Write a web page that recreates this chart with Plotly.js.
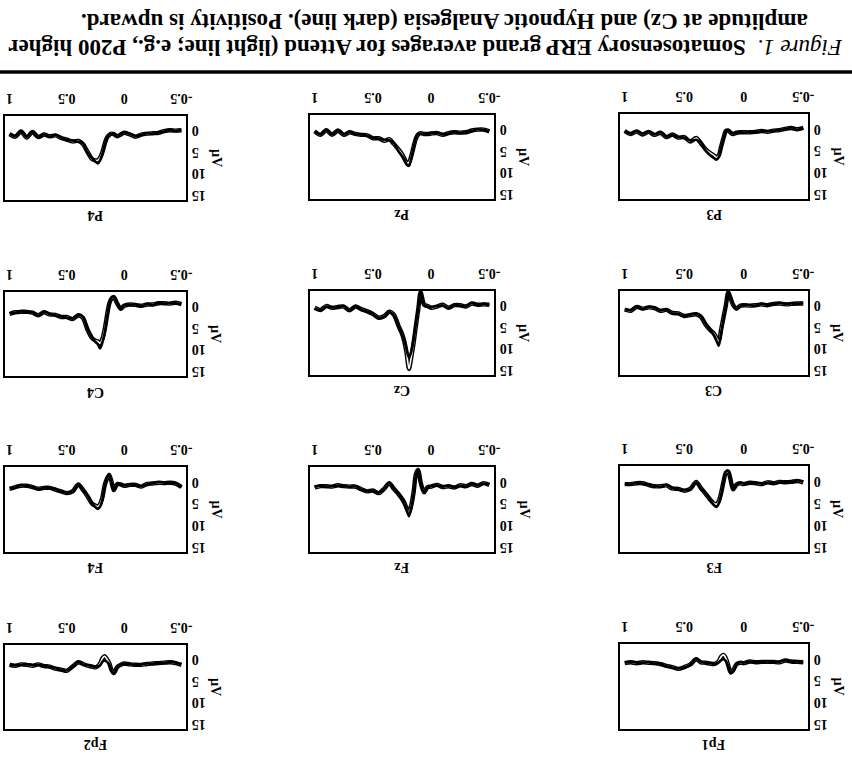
<!DOCTYPE html>
<html><head><meta charset="utf-8">
<script src="https://cdn.plot.ly/plotly-3.0.1.min.js"></script>
<style>html,body{margin:0;padding:0;background:#fff;} #chart{width:852px;height:770px;}</style>
</head><body><div id="chart"></div>
<script>
// time in seconds relative to stimulus
const time = [-0.5,-0.45,-0.4,-0.35,-0.3,-0.25,-0.2,-0.15,-0.1,-0.05,0,0.03,0.06,0.09,0.11,0.13,0.15,0.17,0.19,0.21,0.23,0.25,0.28,0.32,0.36,0.4,0.45,0.5,0.55,0.6,0.65,0.7,0.75,0.8,0.85,0.9,0.95,1.0];
const channels = ['P3','Pz','P4','C3','Cz','C4','F3','Fz','F4','Fp1','Fp2'];
const xTickVals = [-0.5,0,0.5,1];
const xTickText = ['-0.5','0','0.5','1'];
const yTickVals = [0,5,10,15];
const yTickText = ['\u20070','\u20075','10','15'];
const yTitle = 'µV';
const captionLine1 = '<i>Figure 1.</i>  <b>Somatosensory ERP grand averages for Attend (light line; e.g., P200 higher</b>';
const captionLine2 = '<b>amplitude at Cz) and Hypnotic Analgesia (dark line). Positivity is upward.</b>';

// Attend (light line), µV
const attend_P3 = [-1.3,-1.0,-1.3,-1.1,-0.8,-0.7,-0.4,-0.6,-0.4,-0.3,-0.3,-0.3,-0.2,0.1,-0.2,-0.7,-0.6,1.0,3.0,5.0,5.5,5.0,4.5,3.6,2.2,1.0,1.8,0.8,0.9,0.2,0.8,-0.2,0.3,-0.4,0.2,-0.5,0.1,-0.6];
const attend_Pz = [-0.7,-1.1,-1.1,-0.9,-0.5,-0.4,-0.5,-0.3,0.1,-0.3,-0.2,-0.1,-0.1,-0.3,0.0,0.9,2.8,5.0,6.5,6.6,5.6,4.6,3.5,2.2,1.1,1.5,0.9,0.9,0.2,0.1,-0.1,-0.5,0.1,-0.9,0.1,-1.0,0.1,-0.7];
const attend_P4 = [-1.2,-1.1,-1.2,-1.0,-0.6,-0.5,-0.4,-0.2,0.3,-0.2,-0.6,-0.2,0.2,-0.3,-0.4,-0.1,0.5,2.0,3.9,5.2,5.8,5.8,5.5,3.8,2.0,1.3,1.4,1.0,0.6,0.0,0.2,-0.2,0.4,-0.8,0.5,-0.9,0.3,-0.3];
const attend_C3 = [-1.6,-1.6,-1.5,-1.4,-1.6,-1.5,-1.2,-1.4,-1.2,-1.1,-1.2,-1.1,-0.4,-1.3,-2.8,-4.2,-1.2,1.6,4.4,7.2,6.4,5.4,4.6,3.3,1.5,0.9,1.1,1.3,0.7,0.6,-0.1,0.1,-0.5,-0.7,-0.4,-0.8,0.1,-0.2];
const attend_Cz = [-1.3,-1.4,-1.3,-1.6,-0.9,-1.2,-1.2,-0.6,-1.3,-0.9,-0.6,-1.0,-1.3,-4.2,-0.3,3.5,7.5,10.8,13.6,10.0,7.2,5.4,3.6,1.0,0.3,1.3,1.7,0.8,0.2,-0.3,-0.9,0.0,-0.9,-0.8,-0.6,-1.0,-0.1,-0.6];
const attend_C4 = [-1.7,-2.0,-1.8,-1.9,-1.9,-1.6,-1.6,-1.3,-1.5,-1.6,-1.3,-0.6,-1.8,-3.3,-3.0,-1.8,1.0,4.2,6.4,7.4,7.0,6.8,6.2,4.2,1.5,0.9,1.8,1.3,1.3,0.8,0.7,0.2,0.9,0.3,0.1,0.1,0.2,0.6];
const attend_F3 = [-0.8,-1.1,-0.9,-0.8,-0.9,-0.6,-0.8,-0.4,-0.6,-0.7,-0.4,-0.6,-0.3,0.8,-1.3,-3.2,-3.0,-1.0,1.6,3.5,4.2,4.0,3.2,1.8,0.5,-0.9,0.7,1.1,0.7,0.6,-0.1,0.1,0.1,-0.2,-0.6,-0.6,-0.4,-0.4];
const attend_Fz = [-0.4,-0.8,-0.2,-0.6,-0.1,-0.3,0.2,-0.1,0.1,-0.4,0.0,0.1,1.3,-1.0,-3.8,-2.9,1.2,4.2,6.0,5.0,3.7,2.8,1.7,0.5,-0.8,0.4,1.5,0.9,1.1,0.6,0.0,0.0,-0.1,-0.3,0.0,-0.1,-0.1,0.2];
const attend_F4 = [0.1,-0.7,-0.9,-0.8,-0.9,-0.7,-0.6,0.0,-0.4,-0.4,-0.2,-0.5,-0.6,0.8,-1.1,-2.7,-1.8,-0.3,2.5,4.0,4.6,4.4,3.9,2.2,0.7,-0.5,1.1,1.5,1.1,0.7,0.3,0.3,0.5,0.1,-0.2,-0.2,0.1,0.5];
const attend_Fp1 = [-0.3,-0.4,-0.5,-0.7,-0.3,-0.4,-0.4,-0.4,-0.3,-0.5,-0.1,-0.2,0.1,1.6,2.0,0.4,-1.2,-2.0,-1.6,-0.6,-0.1,0.1,0.0,-0.2,-0.3,-1.0,0.2,0.8,1.2,0.8,0.5,0.1,-0.1,-0.2,-0.3,-0.1,-0.3,-0.1];
const attend_Fp2 = [0.1,-0.3,-0.5,-0.4,-0.3,-0.2,-0.1,0.1,0.1,0.0,-0.2,0.1,0.6,2.0,1.3,-0.3,-1.2,-1.9,-1.4,-0.2,0.4,0.7,0.5,0.3,-0.1,-0.5,0.5,1.5,1.2,1.0,0.5,0.4,0.0,0.3,0.1,0.0,0.3,0.1];

// Hypnotic Analgesia (dark line), µV
const hypno_P3 = [-1.4,-0.9,-1.4,-1.0,-0.9,-0.6,-0.5,-0.6,-0.3,-0.4,-0.2,-0.4,-0.2,0.0,-0.3,-0.8,-0.5,1.2,3.2,5.4,6.0,5.6,5.0,3.9,2.0,1.4,1.6,0.9,0.8,0.3,0.7,-0.3,0.2,-0.5,0.1,-0.6,0.0,-0.7];
const hypno_Pz = [-0.8,-1.0,-1.2,-0.8,-0.6,-0.3,-0.6,-0.2,0.0,-0.4,-0.3,0.0,-0.2,-0.2,-0.1,0.8,3.0,5.5,7.3,7.0,5.8,5.0,3.9,2.0,1.3,1.3,1.0,0.8,0.3,0.0,0.0,-0.6,0.0,-1.0,0.0,-1.1,0.0,-0.8];
const hypno_P4 = [-1.3,-1.0,-1.3,-0.9,-0.7,-0.4,-0.5,-0.1,0.2,-0.3,-0.7,-0.3,0.3,-0.4,-0.3,-0.2,0.6,2.2,4.3,5.8,6.5,6.1,5.3,4.0,1.8,1.5,1.2,1.1,0.5,-0.1,0.3,-0.3,0.5,-0.9,0.4,-1.0,0.2,-0.4];
const hypno_C3 = [-1.7,-1.5,-1.6,-1.5,-1.7,-1.4,-1.3,-1.5,-1.1,-1.2,-1.3,-1.0,-0.3,-1.4,-3.0,-4.4,-1.0,2.0,5.2,8.2,7.0,5.8,4.6,3.1,1.4,0.8,1.0,1.4,0.8,0.7,-0.2,0.0,-0.6,-0.8,-0.3,-0.9,0.0,-0.3];
const hypno_Cz = [-1.2,-1.5,-1.2,-1.7,-1.0,-1.1,-1.3,-0.5,-1.2,-1.0,-0.7,-0.9,-1.2,-4.3,-0.6,3.0,6.8,9.6,11.0,9.2,7.0,5.4,3.7,1.2,0.4,1.4,1.8,0.9,0.3,-0.2,-1.0,0.1,-1.0,-0.7,-0.7,-0.9,0.0,-0.5];
const hypno_C4 = [-1.8,-1.9,-1.9,-1.8,-2.0,-1.5,-1.7,-1.2,-1.6,-1.5,-1.4,-0.5,-1.9,-3.4,-3.2,-1.6,1.5,5.0,7.2,8.6,7.6,7.1,6.1,4.0,1.3,0.8,1.7,1.4,1.2,0.9,0.6,0.1,1.0,0.2,0.2,0.0,0.3,0.5];
const hypno_F3 = [-0.9,-1.2,-0.8,-0.9,-0.8,-0.7,-0.7,-0.5,-0.7,-0.6,-0.5,-0.7,-0.2,0.9,-1.4,-3.4,-3.2,-0.9,2.0,4.0,4.8,4.4,3.3,1.7,0.6,-0.8,0.8,1.0,0.8,0.5,-0.2,0.2,0.0,-0.3,-0.5,-0.7,-0.3,-0.5];
const hypno_Fz = [-0.5,-0.7,-0.3,-0.7,0.0,-0.2,0.1,-0.2,0.0,-0.3,-0.1,0.2,1.4,-0.9,-4.0,-2.7,1.6,4.8,6.8,5.2,3.9,2.9,1.6,0.4,-0.9,0.5,1.4,1.0,1.0,0.7,-0.1,0.1,-0.2,-0.2,-0.1,0.0,-0.2,0.1];
const hypno_F4 = [0.2,-0.8,-0.8,-0.9,-1.0,-0.8,-0.5,-0.1,-0.3,-0.5,-0.3,-0.4,-0.7,0.9,-1.0,-2.9,-2.0,-0.1,3.0,4.6,5.1,4.7,3.8,2.0,0.8,-0.4,1.2,1.4,1.2,0.6,0.4,0.2,0.6,0.0,-0.1,-0.3,0.2,0.4];
const hypno_Fp1 = [-0.2,-0.5,-0.4,-0.8,-0.4,-0.3,-0.5,-0.3,-0.4,-0.4,-0.2,-0.3,0.2,1.8,2.2,0.6,-0.6,-1.0,-0.8,-0.3,0.0,0.0,-0.1,-0.2,-0.4,-1.1,0.3,0.9,1.1,0.9,0.6,0.0,0.0,-0.3,-0.2,-0.2,-0.4,-0.2];
const hypno_Fp2 = [0.0,-0.4,-0.6,-0.3,-0.4,-0.1,-0.2,0.0,0.2,-0.1,-0.1,0.0,0.7,2.2,1.5,0.0,-0.6,-0.9,-0.6,0.2,0.5,0.6,0.4,0.2,0.0,-0.6,0.6,1.4,1.3,0.9,0.6,0.3,0.1,0.2,0.0,0.1,0.2,0.2];

const attend = {P3:attend_P3,Pz:attend_Pz,P4:attend_P4,C3:attend_C3,Cz:attend_Cz,C4:attend_C4,F3:attend_F3,Fz:attend_Fz,F4:attend_F4,Fp1:attend_Fp1,Fp2:attend_Fp2};
const hypno = {P3:hypno_P3,Pz:hypno_Pz,P4:hypno_P4,C3:hypno_C3,Cz:hypno_Cz,C4:hypno_C4,F3:hypno_F3,Fz:hypno_Fz,F4:hypno_F4,Fp1:hypno_Fp1,Fp2:hypno_Fp2};

// panel boxes in page pixels [left, right, top, bottom] (figure is shown rotated by 180°)
const W = 852, H = 770;
const boxes = {
  P3:[620,808,114,199], Pz:[310,494,115,199], P4:[5,186,116,200],
  C3:[620,808,291,375], Cz:[310,494,291,375], C4:[5,186,292,376],
  F3:[620,808,466,552], Fz:[310,494,467,552], F4:[5,186,467,552],
  Fp1:[620,808,644,729], Fp2:[5,186,645,729]
};

const serif = 'Liberation Serif, Times New Roman, serif';
const tickFont = {family: serif, size: 14, color: '#000', weight: 'bold'};
const traces = [];
const layout = {
  width: W, height: H,
  margin: {l:0, r:0, t:0, b:0},
  paper_bgcolor: '#fff', plot_bgcolor: '#fff',
  showlegend: false,
  annotations: [],
  shapes: [{type:'line', xref:'paper', yref:'paper', x0:0, x1:1, y0:1-72/H, y1:1-72/H, line:{color:'#000', width:3.5}}]
};

channels.forEach((ch, i) => {
  const n = i + 1;
  const xs = n === 1 ? 'x' : 'x' + n;
  const ys = n === 1 ? 'y' : 'y' + n;
  const xk = n === 1 ? 'xaxis' : 'xaxis' + n;
  const yk = n === 1 ? 'yaxis' : 'yaxis' + n;
  const [l, r, t, b] = boxes[ch];
  layout[xk] = {
    domain: [l / W, r / W], range: [1.04, -0.54], side: 'top', anchor: ys,
    tickmode: 'array', tickvals: xTickVals, ticktext: xTickText, tickangle: 180,
    ticks: '', showline: true, mirror: true, linecolor: '#000', linewidth: 2,
    showgrid: false, zeroline: false, tickfont: tickFont, fixedrange: true
  };
  layout[yk] = {
    domain: [1 - b / H, 1 - t / H], range: [15, -4.5], side: 'right', anchor: xs,
    tickmode: 'array', tickvals: yTickVals, ticktext: yTickText, tickangle: 180,
    ticklabelstandoff: 15,
    ticks: '', showline: true, mirror: true, linecolor: '#000', linewidth: 2,
    showgrid: false, zeroline: false, tickfont: tickFont, fixedrange: true
  };
  // light line: black outline + white core
  traces.push({x: time, y: attend[ch], xaxis: xs, yaxis: ys, type: 'scatter', mode: 'lines',
    line: {color: '#000', width: 4.4, shape: 'spline', smoothing: 0.8}, hoverinfo: 'skip', name: 'Attend ' + ch});
  traces.push({x: time, y: attend[ch], xaxis: xs, yaxis: ys, type: 'scatter', mode: 'lines',
    line: {color: '#fff', width: 1.6, shape: 'spline', smoothing: 0.8}, hoverinfo: 'skip', name: 'Attend core ' + ch});
  // dark line
  traces.push({x: time, y: hypno[ch], xaxis: xs, yaxis: ys, type: 'scatter', mode: 'lines',
    line: {color: '#000', width: 2.6, shape: 'spline', smoothing: 0.8}, hoverinfo: 'skip', name: 'Hypnotic Analgesia ' + ch});

  layout.annotations.push({xref: 'paper', yref: 'paper', x: (l + r) / 2 / W, y: 1 - (b + 16) / H,
    text: ch, showarrow: false, textangle: 180, xanchor: 'center', yanchor: 'middle',
    font: {family: serif, size: 14, color: '#000', weight: 'bold'}});
  layout.annotations.push({xref: 'paper', yref: 'paper', x: (r + 30) / W, y: 1 - (t + b) / 2 / H,
    text: yTitle, showarrow: false, textangle: 90, xanchor: 'center', yanchor: 'middle',
    font: {family: serif, size: 14, color: '#000', weight: 'bold'}});
});

layout.annotations.push({xref: 'paper', yref: 'paper', x: 426 / W, y: 1 - 47 / H, text: captionLine1,
  showarrow: false, textangle: 180, xanchor: 'center', yanchor: 'middle',
  font: {family: serif, size: 23, color: '#000'}});
layout.annotations.push({xref: 'paper', yref: 'paper', x: 445 / W, y: 1 - 22 / H, text: captionLine2,
  showarrow: false, textangle: 180, xanchor: 'center', yanchor: 'middle',
  font: {family: serif, size: 23, color: '#000'}});

Plotly.newPlot('chart', traces, layout, {displayModeBar: false, staticPlot: true});
</script>
</body></html>
